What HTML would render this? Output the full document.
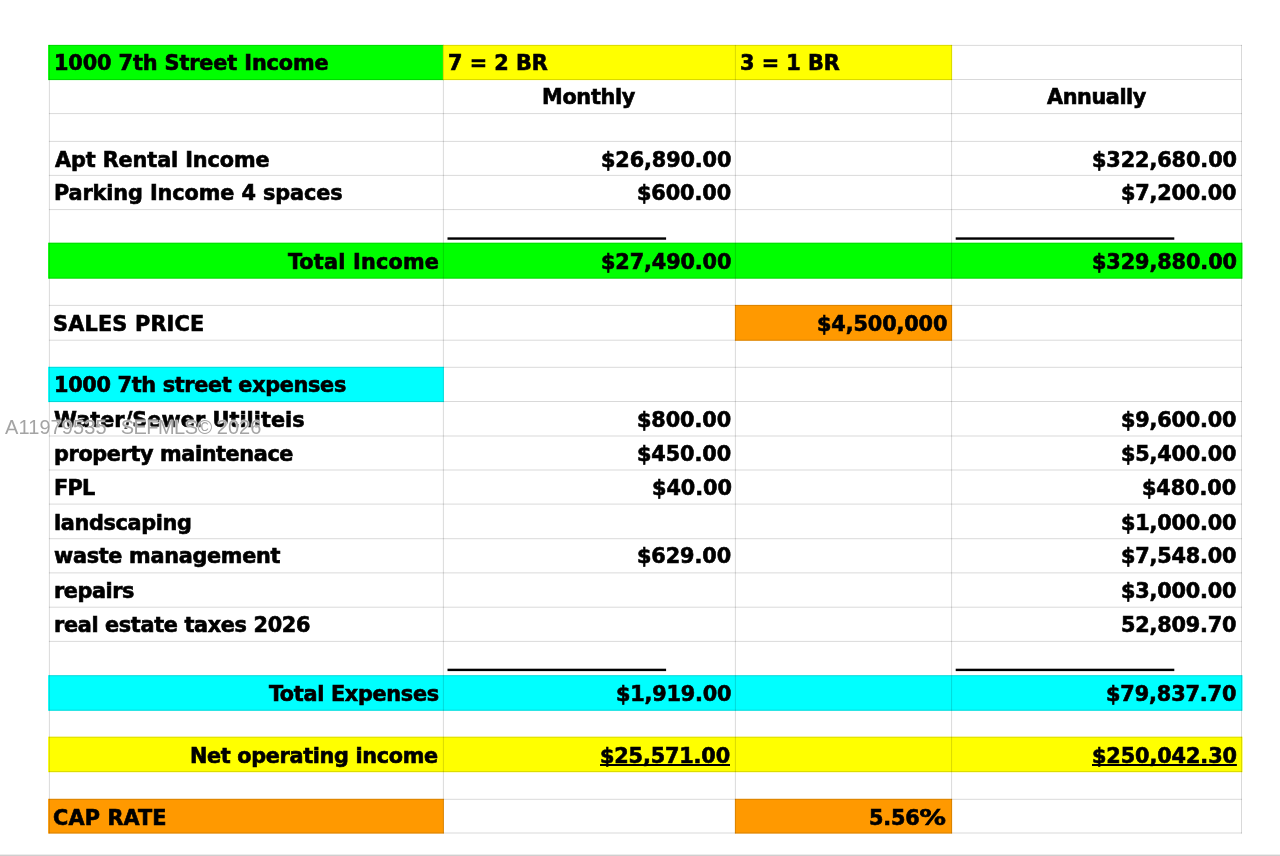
<!DOCTYPE html>
<html lang="en">
<head>
<meta charset="utf-8">
<title>1000 7th Street Income</title>
<style>
html,body{margin:0;padding:0;background:#fff;}
body{width:1280px;height:856px;position:relative;overflow:hidden;font-family:"DejaVu Sans Condensed", "DejaVu Sans", "Liberation Sans", sans-serif;font-weight:bold;font-stretch:condensed;font-size:22.0px;color:#000;}
svg.g{position:absolute;left:0;top:0;}
.t{position:absolute;white-space:nowrap;line-height:26px;height:26px;-webkit-text-stroke:0.6px #000;transform:scaleX(1.05);transform-origin:0 0;}
.u{text-decoration:underline;text-decoration-thickness:2px;text-underline-offset:1.45px;text-decoration-skip-ink:none;}
.pc{display:inline-block;transform:scaleX(1.27);transform-origin:0 50%;}
.wm{position:absolute;font-stretch:normal;left:5px;top:415px;font-family:"Liberation Sans",sans-serif;font-weight:normal;font-size:20px;line-height:24px;color:#a4a4a4;white-space:nowrap;letter-spacing:.1px;text-shadow:0 0 1px #fff,0 0 1.5px #fff,0 0 1.5px #fff;}
.wm .s{margin-left:8.3px;letter-spacing:-.55px;}
.wm .y{margin-left:-.5px;letter-spacing:0;}

</style>
</head>
<body>
<svg class="g" width="1280" height="856" viewBox="0 0 1280 856">
<rect x="48.10" y="44.90" width="395.80" height="35.20" fill="#00ff00"/>
<rect x="442.90" y="44.90" width="509.20" height="35.20" fill="#ffff00"/>
<rect x="48.10" y="242.70" width="1194.40" height="36.00" fill="#00ff00"/>
<rect x="734.90" y="304.90" width="217.20" height="35.90" fill="#ff9900"/>
<rect x="48.10" y="366.80" width="395.80" height="35.30" fill="#00ffff"/>
<rect x="48.10" y="675.20" width="1194.40" height="35.60" fill="#00ffff"/>
<rect x="48.10" y="736.70" width="1194.40" height="35.50" fill="#ffff00"/>
<rect x="48.10" y="798.80" width="395.80" height="34.80" fill="#ff9900"/>
<rect x="734.90" y="798.80" width="217.20" height="34.80" fill="#ff9900"/>
<g stroke="#000" stroke-opacity="0.15" stroke-width="1" fill="none">
<line x1="48.9" y1="45.40" x2="1242.0" y2="45.40"/>
<line x1="48.9" y1="79.50" x2="1242.0" y2="79.50"/>
<line x1="48.9" y1="113.60" x2="1242.0" y2="113.60"/>
<line x1="48.9" y1="141.40" x2="1242.0" y2="141.40"/>
<line x1="48.9" y1="175.40" x2="1242.0" y2="175.40"/>
<line x1="48.9" y1="209.60" x2="1242.0" y2="209.60"/>
<line x1="48.9" y1="243.20" x2="1242.0" y2="243.20"/>
<line x1="48.9" y1="278.10" x2="1242.0" y2="278.10"/>
<line x1="48.9" y1="305.40" x2="1242.0" y2="305.40"/>
<line x1="48.9" y1="340.20" x2="1242.0" y2="340.20"/>
<line x1="48.9" y1="367.30" x2="1242.0" y2="367.30"/>
<line x1="48.9" y1="401.50" x2="1242.0" y2="401.50"/>
<line x1="48.9" y1="436.00" x2="1242.0" y2="436.00"/>
<line x1="48.9" y1="470.00" x2="1242.0" y2="470.00"/>
<line x1="48.9" y1="504.10" x2="1242.0" y2="504.10"/>
<line x1="48.9" y1="538.70" x2="1242.0" y2="538.70"/>
<line x1="48.9" y1="572.90" x2="1242.0" y2="572.90"/>
<line x1="48.9" y1="607.20" x2="1242.0" y2="607.20"/>
<line x1="48.9" y1="641.40" x2="1242.0" y2="641.40"/>
<line x1="48.9" y1="675.70" x2="1242.0" y2="675.70"/>
<line x1="48.9" y1="710.20" x2="1242.0" y2="710.20"/>
<line x1="48.9" y1="737.20" x2="1242.0" y2="737.20"/>
<line x1="48.9" y1="771.60" x2="1242.0" y2="771.60"/>
<line x1="48.9" y1="799.30" x2="1242.0" y2="799.30"/>
<line x1="48.9" y1="833.00" x2="1242.0" y2="833.00"/>
<line x1="49.40" y1="44.9" x2="49.40" y2="833.5"/>
<line x1="443.40" y1="44.9" x2="443.40" y2="833.5"/>
<line x1="735.40" y1="44.9" x2="735.40" y2="833.5"/>
<line x1="951.60" y1="44.9" x2="951.60" y2="833.5"/>
<line x1="1241.50" y1="44.9" x2="1241.50" y2="833.5"/>
</g>
<rect x="447.50" y="237.35" width="218.6" height="2.4" fill="#000"/>
<rect x="955.70" y="237.35" width="218.6" height="2.4" fill="#000"/>
<rect x="447.50" y="668.70" width="218.6" height="2.4" fill="#000"/>
<rect x="955.70" y="668.70" width="218.6" height="2.4" fill="#000"/>
<rect x="0" y="854.6" width="1280" height="1.4" fill="#cfcfcf"/>
</svg>
<div class="t" id="t0" style="left:53.50px;top:50px;letter-spacing:-0.102px">1000 7th Street Income</div>
<div class="t" id="t1" style="left:447.75px;top:50px;letter-spacing:-0.009px">7 = 2 BR</div>
<div class="t" id="t2" style="left:740.25px;top:50px;letter-spacing:-0.009px">3 = 1 BR</div>
<div class="t" id="t3" style="left:542.27px;top:84px;letter-spacing:-0.282px">Monthly</div>
<div class="t" id="t4" style="left:1047.28px;top:84px;letter-spacing:-0.401px">Annually</div>
<div class="t" id="t5" style="left:54.53px;top:147px;letter-spacing:-0.100px">Apt Rental Income</div>
<div class="t" id="t6" style="left:601.13px;top:147px;letter-spacing:-0.112px">$26,890.00</div>
<div class="t" id="t7" style="left:1091.68px;top:147px;letter-spacing:-0.092px">$322,680.00</div>
<div class="t" id="t8" style="left:53.52px;top:180px;letter-spacing:-0.089px">Parking Income 4 spaces</div>
<div class="t" id="t9" style="left:637.34px;top:180px;letter-spacing:-0.087px">$600.00</div>
<div class="t" id="t10" style="left:1120.68px;top:180px;letter-spacing:-0.180px">$7,200.00</div>
<div class="t" id="t11" style="left:288.02px;top:249px;letter-spacing:0.198px">Total Income</div>
<div class="t" id="t12" style="left:601.13px;top:249px;letter-spacing:-0.112px">$27,490.00</div>
<div class="t" id="t13" style="left:1091.68px;top:249px;letter-spacing:-0.092px">$329,880.00</div>
<div class="t" id="t14" style="left:53.25px;top:311px;letter-spacing:0.200px">SALES PRICE</div>
<div class="t" id="t15" style="left:816.50px;top:311px;letter-spacing:-0.111px">$4,500,000</div>
<div class="t" id="t16" style="left:53.50px;top:372px;letter-spacing:-0.301px">1000 7th street expenses</div>
<div class="t" id="t17" style="left:53.75px;top:407px;letter-spacing:0.050px">Water/Sewer Utiliteis</div>
<div class="t" id="t18" style="left:637.34px;top:407px;letter-spacing:-0.087px">$800.00</div>
<div class="t" id="t19" style="left:1120.68px;top:407px;letter-spacing:-0.180px">$9,600.00</div>
<div class="t" id="t20" style="left:53.50px;top:441px;letter-spacing:-0.358px">property maintenace</div>
<div class="t" id="t21" style="left:637.34px;top:441px;letter-spacing:-0.087px">$450.00</div>
<div class="t" id="t22" style="left:1120.68px;top:441px;letter-spacing:-0.180px">$5,400.00</div>
<div class="t" id="t23" style="left:53.52px;top:475px;letter-spacing:-0.716px">FPL</div>
<div class="t" id="t24" style="left:651.84px;top:475px;letter-spacing:-0.042px">$40.00</div>
<div class="t" id="t25" style="left:1142.39px;top:475px;letter-spacing:-0.087px">$480.00</div>
<div class="t" id="t26" style="left:54.00px;top:510px;letter-spacing:-0.320px">landscaping</div>
<div class="t" id="t27" style="left:1120.68px;top:510px;letter-spacing:-0.180px">$1,000.00</div>
<div class="t" id="t28" style="left:54.25px;top:543px;letter-spacing:-0.277px">waste management</div>
<div class="t" id="t29" style="left:637.34px;top:543px;letter-spacing:-0.087px">$629.00</div>
<div class="t" id="t30" style="left:1120.68px;top:543px;letter-spacing:-0.180px">$7,548.00</div>
<div class="t" id="t31" style="left:54.00px;top:578px;letter-spacing:-0.425px">repairs</div>
<div class="t" id="t32" style="left:1120.68px;top:578px;letter-spacing:-0.180px">$3,000.00</div>
<div class="t" id="t33" style="left:54.00px;top:612px;letter-spacing:-0.316px">real estate taxes 2026</div>
<div class="t" id="t34" style="left:1120.68px;top:612px;letter-spacing:-0.180px">52,809.70</div>
<div class="t" id="t35" style="left:268.52px;top:681px;letter-spacing:-0.282px">Total Expenses</div>
<div class="t" id="t36" style="left:615.63px;top:681px;letter-spacing:-0.180px">$1,919.00</div>
<div class="t" id="t37" style="left:1106.18px;top:681px;letter-spacing:-0.112px">$79,837.70</div>
<div class="t" id="t38" style="left:190.27px;top:743px;letter-spacing:-0.319px">Net operating income</div>
<div class="t" id="t39" style="left:600.41px;top:743px;letter-spacing:-0.141px"><span class="u">$25,571.00</span></div>
<div class="t" id="t40" style="left:1091.68px;top:743px;letter-spacing:-0.092px"><span class="u">$250,042.30</span></div>
<div class="t" id="t41" style="left:53.09px;top:805px;letter-spacing:0.143px">CAP RATE</div>
<div class="t" id="t42" style="left:869.25px;top:805px;letter-spacing:-0.186px">5.56<span class="pc">%</span></div>
<div class="wm"><span>A11979535</span> <span class="s">SEFMLS&copy;</span> <span class="y">2026</span></div>
</body>
</html>
